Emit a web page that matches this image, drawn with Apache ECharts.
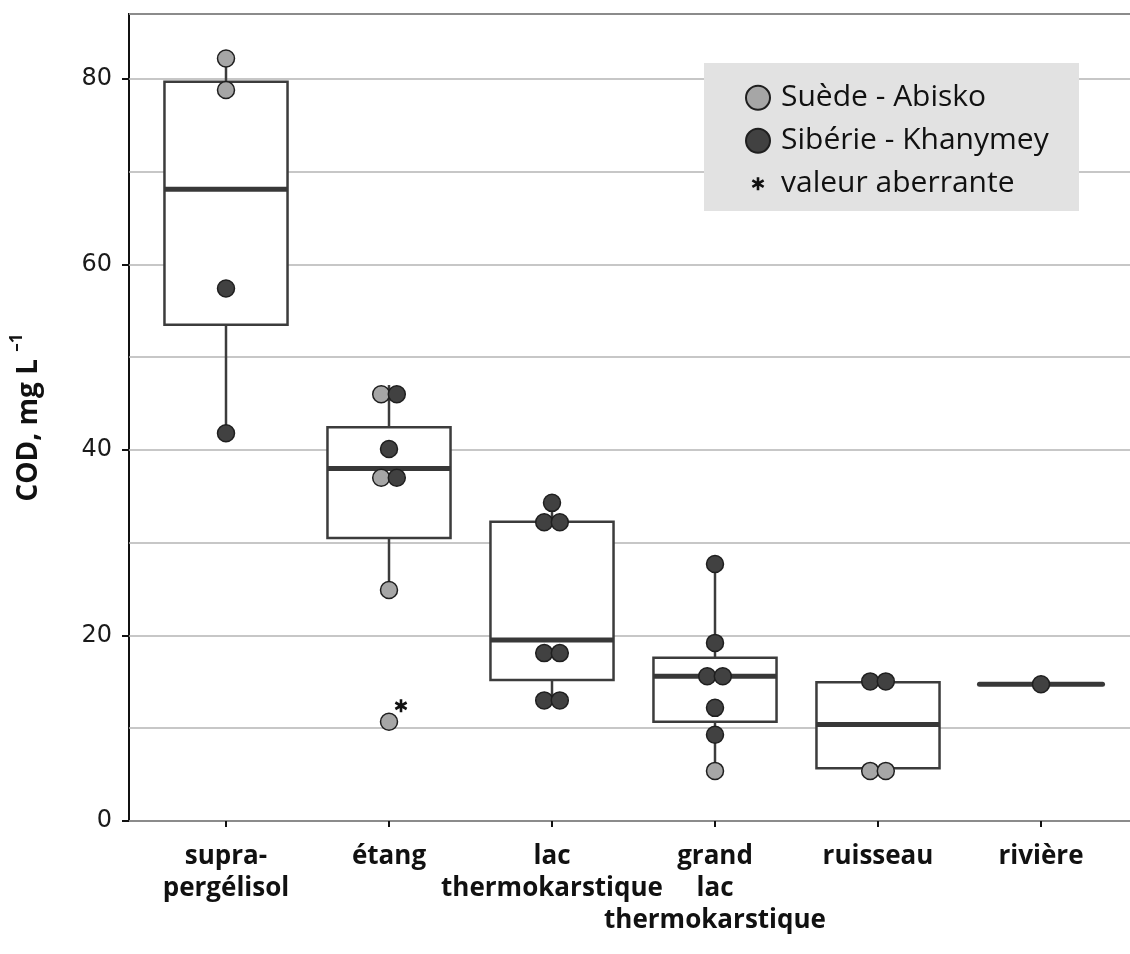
<!DOCTYPE html>
<html>
<head>
<meta charset="utf-8">
<script src="https://cdn.jsdelivr.net/npm/echarts@6/dist/echarts.min.js"></script>
<style>
html,body{margin:0;padding:0;background:#fff;}
#chart{width:1130px;height:954px;}
</style>
</head>
<body>
<div id="chart"></div>
<script>
// ---- data ----
const categories = ['supra-\npergélisol', 'étang', 'lac\nthermokarstique', 'grand\nlac\nthermokarstique', 'ruisseau', 'rivière'];
// [min, Q1, median, Q3, max]
const boxStats = [
  [41.8, 53.5, 68.1, 79.7, 82.2],
  [24.9, 30.5, 38.0, 42.45, 47.0],
  [13.0, 15.2, 19.5, 32.25, 34.3],
  [5.4, 10.7, 15.6, 17.6, 27.7],
  [5.7, 5.7, 10.4, 14.95, 14.95],
  [14.75, 14.75, 14.75, 14.75, 14.75]
];
const suedeValues = [[82.2, 78.8], [46.0, 37.0, 24.9, 10.7], [], [5.4], [5.4, 5.4], []];
const siberieValues = [[57.4, 41.8], [46.0, 40.1, 37.0], [34.3, 32.2, 32.2, 18.1, 18.1, 13.0, 13.0], [27.7, 19.2, 15.6, 15.6, 12.2, 9.3], [15.05, 15.05], [14.75]];
const outliers = [[1, 10.7]];
const yTicks = [0, 20, 40, 60, 80];
const yMax = 87;
const seriesNames = ['Suède - Abisko', 'Sibérie - Khanymey', 'valeur aberrante'];

// ---- dodge equal values side by side ----
const DOT = 17, STEP = 15.6;
function buildPoints() {
  const out = [[], []];
  categories.forEach((c, ci) => {
    const pts = [];
    suedeValues[ci].forEach(v => pts.push({s: 0, v}));
    siberieValues[ci].forEach(v => pts.push({s: 1, v}));
    const groups = [];
    pts.forEach(p => {
      let g = groups.find(g => Math.abs(g[0].v - p.v) < 0.4);
      if (g) g.push(p); else groups.push([p]);
    });
    groups.forEach(g => {
      g.forEach((p, k) => {
        const off = (k - (g.length - 1) / 2) * STEP;
        out[p.s].push({value: [ci, p.v], symbolOffset: [off, 0]});
      });
    });
  });
  return out;
}
const pts = buildPoints();

const asteriskPath = 'path://M0 0L0.01 0L0 0.01Z M24 24L23.99 24L24 23.99Z ' +
  'M10.7 18.5L13.3 18.5L13.3 5.5L10.7 5.5Z ' +
  'M16.98 16.38L18.28 14.12L7.02 7.62L5.72 9.88Z ' +
  'M5.72 14.12L7.02 16.38L18.28 9.88L16.98 7.62Z';

const chart = echarts.init(document.getElementById('chart'), null, {renderer: 'canvas'});
const option = {
  animation: false,
  backgroundColor: '#ffffff',
  graphic: [{
    type: 'rect', left: 704, top: 63, z: 1,
    shape: {width: 375, height: 148},
    style: {fill: '#e2e2e2'}
  }],
  legend: {
    orient: 'vertical', left: 745, top: 79.7, z: 10,
    padding: 0, itemWidth: 24, itemHeight: 24, itemGap: 7,
    textStyle: {fontFamily: 'Open Sans', fontSize: 30, color: '#111', lineHeight: 36, padding: [0, 0, 0, 6]},
    data: seriesNames
  },
  grid: [
    {left: 129, top: 14, right: -10, bottom: 133, outerBoundsMode: 'none', containLabel: false, show: true, borderColor: '#111', borderWidth: 2, backgroundColor: 'transparent'},
    {left: 144.5, top: 14, right: 7.5, bottom: 133, outerBoundsMode: 'none', containLabel: false}
  ],
  xAxis: [
    {gridIndex: 0, type: 'value', min: 0, max: 1, show: false},
    {gridIndex: 1, type: 'category', data: categories,
      axisLine: {show: false},
      axisTick: {show: true, alignWithLabel: true, length: 6, lineStyle: {color: '#111', width: 2}},
      axisLabel: {interval: 0, margin: 20, fontFamily: 'Open Sans', fontWeight: 'bold', fontSize: 26, lineHeight: 32, color: '#111'},
      splitLine: {show: false}}
  ],
  yAxis: [
    {gridIndex: 0, type: 'value', position: 'left', min: 0, max: yMax, interval: 10,
      axisLine: {show: false}, axisTick: {show: false}, axisLabel: {show: false},
      splitLine: {show: true, lineStyle: {color: '#b5b5b5', width: 1.5}}},
    {gridIndex: 0, type: 'value', position: 'left', offset: 0, min: 0, max: yMax, interval: 20,
      axisLine: {show: false},
      axisTick: {show: true, length: 7, customValues: yTicks, lineStyle: {color: '#111', width: 2}},
      axisLabel: {show: true, customValues: yTicks, margin: 17, fontFamily: 'DejaVu Sans', fontSize: 24, color: '#1a1a1a'},
      splitLine: {show: false},
      name: '{a|COD, mg L }{b|–1}',
      nameLocation: 'middle', nameRotate: 90, nameGap: 86,
      nameTextStyle: {
        rich: {
          a: {fontFamily: 'Open Sans', fontWeight: 'bold', fontSize: 28, color: '#111', lineHeight: 34, verticalAlign: 'bottom'},
          b: {fontFamily: 'Open Sans', fontWeight: 'bold', fontSize: 17, color: '#111', lineHeight: 34, verticalAlign: 'top'}
        }
      }},
    {gridIndex: 1, type: 'value', min: 0, max: yMax, show: false}
  ],
  series: [
    {
      type: 'custom', name: 'boxes', xAxisIndex: 1, yAxisIndex: 2, z: 2,
      data: boxStats.map((s, i) => [i].concat(s)),
      encode: {x: 0, y: [1, 2, 3, 4, 5]},
      renderItem: function (params, api) {
        const c = api.value(0);
        const mn = api.value(1), q1 = api.value(2), md = api.value(3), q3 = api.value(4), mx = api.value(5);
        const x = api.coord([c, md])[0];
        const bw = api.size([1, 0])[0] * 0.755;
        const y = v => api.coord([c, v])[1];
        const ln = {stroke: '#3c3c3c', lineWidth: 2.5};
        const ch = [];
        if (mx > q3) ch.push({type: 'line', shape: {x1: x, y1: y(q3), x2: x, y2: y(mx)}, style: ln});
        if (mn < q1) ch.push({type: 'line', shape: {x1: x, y1: y(q1), x2: x, y2: y(mn)}, style: ln});
        if (q3 > q1) ch.push({type: 'rect', shape: {x: x - bw / 2, y: y(q3), width: bw, height: y(q1) - y(q3)}, style: {fill: '#ffffff', stroke: '#3c3c3c', lineWidth: 2.5}});
        ch.push({type: 'line', shape: {x1: x - bw / 2, y1: y(md), x2: x + bw / 2, y2: y(md)}, style: {stroke: '#383838', lineWidth: 5, lineCap: q3 > q1 ? 'butt' : 'round'}});
        return {type: 'group', children: ch};
      }
    },
    {
      type: 'scatter', name: seriesNames[0], xAxisIndex: 1, yAxisIndex: 2, z: 4,
      symbol: 'circle', symbolSize: DOT,
      itemStyle: {color: '#a6a6a6', borderColor: '#1f1f1f', borderWidth: 1.5, opacity: 1},
      data: pts[0]
    },
    {
      type: 'scatter', name: seriesNames[1], xAxisIndex: 1, yAxisIndex: 2, z: 4,
      symbol: 'circle', symbolSize: DOT,
      itemStyle: {color: '#414141', borderColor: '#1f1f1f', borderWidth: 1.5, opacity: 1},
      data: pts[1]
    },
    {
      type: 'scatter', name: seriesNames[2], xAxisIndex: 1, yAxisIndex: 2, z: 4,
      symbol: asteriskPath, symbolSize: 24, symbolOffset: [12, -16],
      itemStyle: {color: '#111', opacity: 1},
      data: outliers
    }
  ]
};
chart.setOption(option);
</script>
</body>
</html>
